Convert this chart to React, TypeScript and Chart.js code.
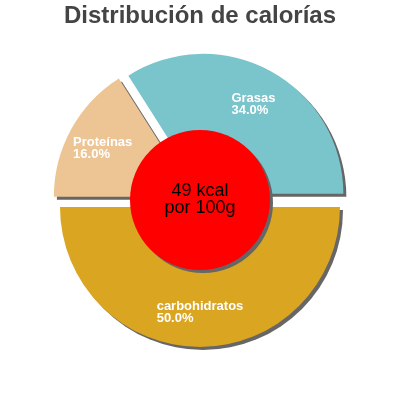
import React, { useEffect, useRef } from "react";
import { Chart, registerables } from "chart.js";

Chart.register(...registerables);

// datos del gráfico
const categories = ["carbohidratos", "Proteínas", "Grasas"];
const shares = [50.0, 16.0, 34.0];
const sliceColors = ["#daa520", "#edc594", "#7ac4cc"];
const centerLines = ["49 kcal", "por 100g"];
const chartTitle = "Distribución de calorías";

const EXPLODE = 7;
const SHADOW = 3;
const FONT = "'Liberation Sans', Arial, sans-serif";

// dibuja las porciones separadas y con sombra
const explodePlugin = {
  id: "explode",
  beforeDatasetDraw(chart: any, args: any) {
    const ctx = chart.ctx;
    args.meta.data.forEach((arc: any) => {
      const mid = (arc.startAngle + arc.endAngle) / 2;
      ctx.save();
      ctx.shadowColor = "#666";
      ctx.shadowOffsetX = SHADOW;
      ctx.shadowOffsetY = SHADOW;
      ctx.shadowBlur = 0;
      ctx.translate(Math.cos(mid) * EXPLODE, Math.sin(mid) * EXPLODE);
      arc.draw(ctx);
      ctx.restore();
    });
    return false;
  },
  afterDatasetsDraw(chart: any) {
    const ctx = chart.ctx;
    const arcs = chart.getDatasetMeta(0).data;
    if (!arcs.length) return;
    const { x, y, outerRadius } = arcs[0];

    // etiquetas
    ctx.save();
    ctx.font = `bold 13px ${FONT}`;
    ctx.fillStyle = "#fff";
    ctx.textAlign = "left";
    ctx.textBaseline = "alphabetic";
    arcs.forEach((arc: any, i: number) => {
      const mid = (arc.startAngle + arc.endAngle) / 2;
      const r = EXPLODE + outerRadius * 0.743;
      const ax = x + Math.cos(mid) * r;
      const ay = y + Math.sin(mid) * r;
      const lines = [categories[i], shares[i].toFixed(1) + "%"];
      const w = Math.max(...lines.map((l) => ctx.measureText(l).width));
      lines.forEach((l, j) => ctx.fillText(l, ax - w / 2, ay - 1 + j * 12));
    });
    ctx.restore();

    // círculo central
    ctx.save();
    ctx.shadowColor = "#666";
    ctx.shadowOffsetX = SHADOW;
    ctx.shadowOffsetY = SHADOW;
    ctx.fillStyle = "#ff0000";
    ctx.beginPath();
    ctx.arc(x, y, outerRadius * 0.5, 0, Math.PI * 2);
    ctx.fill();
    ctx.restore();

    ctx.save();
    ctx.font = `18px ${FONT}`;
    ctx.fillStyle = "#000";
    ctx.textAlign = "center";
    ctx.textBaseline = "alphabetic";
    ctx.fillText(centerLines[0], x, y - 4);
    ctx.fillText(centerLines[1], x, y + 13);
    ctx.restore();
  },
};

const CaloriesPie: React.FC = () => {
  const chartRef = useRef<HTMLCanvasElement>(null);

  useEffect(() => {
    document.body.style.margin = "0";
    if (!chartRef.current) return;
    const ctx = chartRef.current.getContext("2d");
    if (!ctx) return;
    const chart = new Chart(ctx, {
      type: "pie",
      data: {
        labels: categories,
        datasets: [
          {
            data: shares,
            backgroundColor: sliceColors,
            borderWidth: 0,
          },
        ],
      },
      options: {
        responsive: true,
        maintainAspectRatio: false,
        animation: false,
        rotation: 90,
        radius: 140,
        layout: { padding: { top: 0, left: 60, right: 60, bottom: 60 } },
        plugins: {
          legend: { display: false },
          tooltip: { enabled: false },
          title: {
            display: true,
            text: chartTitle,
            color: "#444",
            font: { family: FONT, size: 24, weight: "bold" },
            padding: { top: 2.3, bottom: 28.9 },
          },
        },
      },
      plugins: [explodePlugin],
    });
    return () => chart.destroy();
  }, []);

  return (
    <div style={{ width: 400, height: 400, position: "relative" }}>
      <canvas ref={chartRef}></canvas>
    </div>
  );
};

export default function App() {
  return <CaloriesPie />;
}
